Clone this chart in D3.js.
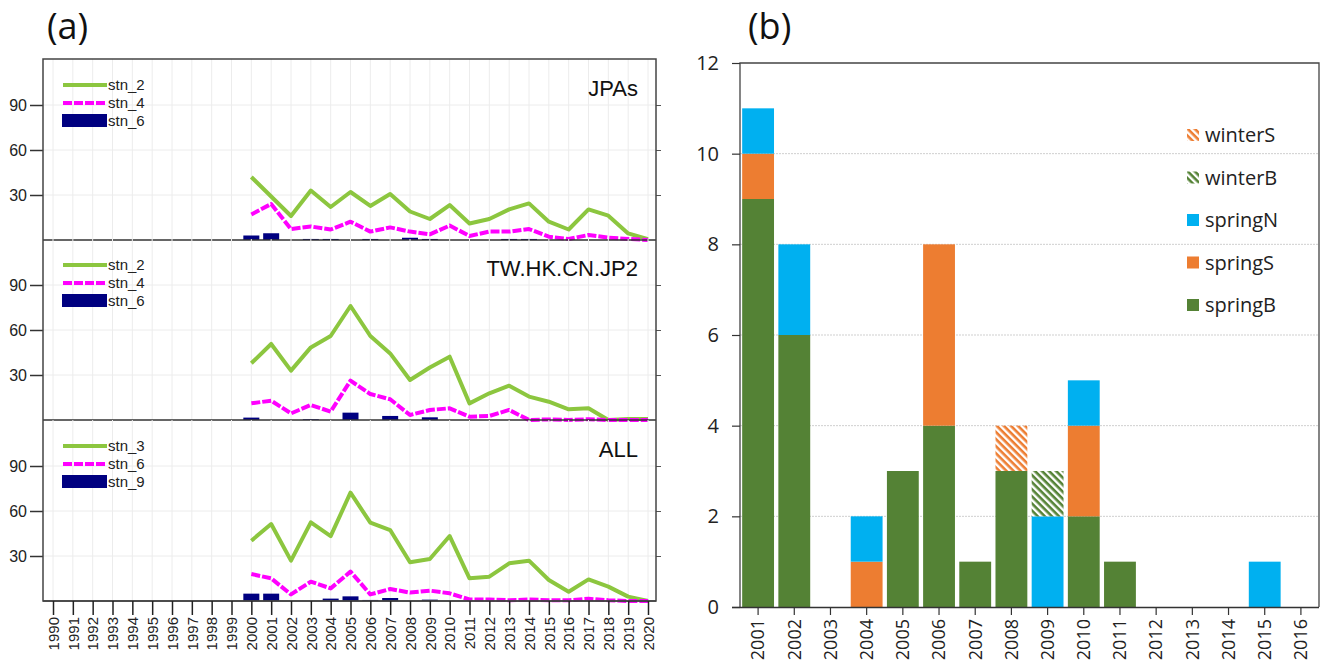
<!DOCTYPE html>
<html>
<head>
<meta charset="utf-8">
<script src="https://cdn.jsdelivr.net/npm/d3@7"></script>
<style>
  html, body { margin: 0; padding: 0; background: #fff; }
  svg { display: block; }
</style>
</head>
<body>
<svg id="chart" width="1325" height="667"></svg>
<script>
// ---------------- DATA: panel (a) ----------------
const axisYearsA = [1990,1991,1992,1993,1994,1995,1996,1997,1998,1999,2000,2001,2002,2003,2004,2005,2006,2007,2008,2009,2010,2011,2012,2013,2014,2015,2016,2017,2018,2019,2020];
const dataYearsA = [2000,2001,2002,2003,2004,2005,2006,2007,2008,2009,2010,2011,2012,2013,2014,2015,2016,2017,2018,2019,2020];
const yTicksA = [30, 60, 90];

const panelNames = ["JPAs", "TW.HK.CN.JP2", "ALL"];
const legendNames = [["stn_2","stn_4","stn_6"], ["stn_2","stn_4","stn_6"], ["stn_3","stn_6","stn_9"]];

const jpasGreen = [42, 29, 16, 33, 22, 32, 22.7, 30.7, 19, 14, 23.3, 11, 14, 20.4, 24.4, 12.2, 7, 20.4, 16.2, 4.4, 0.5];
const jpasPink  = [17, 24, 7.3, 9, 7, 12.2, 5.6, 8.4, 5.6, 3.8, 9.6, 2.7, 5.6, 5.6, 7.3, 2.2, 0.7, 3.3, 1.6, 0.7, 0];
const jpasNavy  = [3, 4.5, 0, 0.7, 0.7, 0, 0.7, 0, 1.5, 0.7, 0, 0, 0, 0.7, 0.7, 0, 0, 0, 0, 0, 0];

const twGreen = [37.8, 50.7, 32.9, 48.4, 56, 76, 56, 44.4, 26.7, 35, 42.2, 11.1, 17.8, 22.9, 15.6, 12.2, 7.1, 7.8, 0, 0.7, 0.7];
const twPink  = [11.1, 12.9, 4.4, 10, 5.6, 26.2, 17.3, 13.8, 3.3, 6.7, 7.8, 2.2, 2.7, 6.7, 0, 0.4, 0, 0.5, 0, 0, 0];
const twNavy  = [1.6, 0, 0, 0.5, 0, 4.9, 0, 2.7, 0, 1.8, 0, 0, 0, 0, 0, 0, 0, 0, 0, 0, 0];

const allGreen = [40.2, 51.3, 26.9, 52.4, 43.3, 72.2, 52.2, 47.3, 25.8, 28, 43.3, 15.1, 16.2, 25.1, 26.9, 14, 6.2, 14.4, 9.6, 2.9, 0];
const allPink  = [18, 15.1, 4.4, 12.9, 8.4, 19.6, 4.4, 8, 5.6, 6.9, 5.1, 1, 1, 0.5, 1, 0.5, 0.5, 1.5, 0.5, 0, 0];
const allNavy  = [4.9, 4.9, 0, 0, 1.6, 3.1, 0.7, 2, 0, 0.9, 0, 0, 0, 0, 0, 0, 0, 0, 0, 0, 0];

// ---------------- DATA: panel (b) ----------------
const yearsB = ["2001","2002","2003","2004","2005","2006","2007","2008","2009","2010","2011","2012","2013","2014","2015","2016"];
const springB = [9, 6, 0, 0, 3, 4, 1, 3, 0, 2, 1, 0, 0, 0, 0, 0];
const springS = [1, 0, 0, 1, 0, 4, 0, 0, 0, 2, 0, 0, 0, 0, 0, 0];
const springN = [1, 2, 0, 1, 0, 0, 0, 0, 2, 1, 0, 0, 0, 0, 1, 0];
const winterB = [0, 0, 0, 0, 0, 0, 0, 0, 1, 0, 0, 0, 0, 0, 0, 0];
const winterS = [0, 0, 0, 0, 0, 0, 0, 1, 0, 0, 0, 0, 0, 0, 0, 0];
const seriesB = ["springB", "springS", "springN", "winterB", "winterS"];
const legendB = ["winterS", "winterB", "springN", "springS", "springB"];
const yTicksB = [0, 2, 4, 6, 8, 10, 12];

// ---------------- STYLE ----------------
const GREEN = "#8cc63f", PINK = "#ff00ff", NAVY = "#000080";
const colB = { springB: "#548235", springS: "#ed7d31", springN: "#00b0f0", winterB: "#548235", winterS: "#ed7d31" };
const fontA = "'Liberation Sans', Arial, sans-serif";
const fontB = "'Open Sans', sans-serif";

const svg = d3.select("#chart");
svg.append("rect").attr("width", 1325).attr("height", 667).attr("fill", "#fff");

// ---------------- PANEL (a) ----------------
const aLeft = 43, aRight = 656;
const panelBottoms = [240, 420, 601];
const panelH = 181;
const xA = d3.scaleLinear().domain([1990, 2020]).range([53, 648]);

const panels = [
  { green: jpasGreen, pink: jpasPink, navy: jpasNavy },
  { green: twGreen, pink: twPink, navy: twNavy },
  { green: allGreen, pink: allPink, navy: allNavy }
];

svg.append("text").attr("x", 47).attr("y", 39).attr("font-family", fontB)
  .attr("font-size", 36).attr("fill", "#111").text("(a)");

panels.forEach((p, i) => {
  const bottom = panelBottoms[i];
  const top = bottom - panelH;
  const y = d3.scaleLinear().domain([0, 120]).range([bottom, bottom - 180]);
  const g = svg.append("g");

  g.selectAll("line.vg").data(axisYearsA).join("line")
    .attr("x1", d => xA(d)).attr("x2", d => xA(d))
    .attr("y1", top).attr("y2", bottom)
    .attr("stroke", "#ececec").attr("stroke-width", 1);
  g.selectAll("line.hg").data(yTicksA).join("line")
    .attr("x1", aLeft).attr("x2", aRight)
    .attr("y1", d => y(d)).attr("y2", d => y(d))
    .attr("stroke", "#ececec").attr("stroke-width", 1);

  const axL = d3.axisLeft(y).tickValues(yTicksA).tickSize(13).tickPadding(3);
  const gl = g.append("g").attr("transform", `translate(${aLeft},0)`).call(axL);
  gl.attr("font-size", null).attr("font-family", null);
  gl.select(".domain").remove();
  gl.selectAll(".tick line").attr("stroke", "#333").attr("stroke-width", 1.5);
  gl.selectAll(".tick text").style("font-family", fontA).style("font-size", "16px").attr("fill", "#222");

  const axR = d3.axisRight(y).tickValues(yTicksA).tickSize(5).tickFormat("");
  const gr = g.append("g").attr("transform", `translate(${aRight},0)`).call(axR);
  gr.select(".domain").remove();
  gr.selectAll(".tick line").attr("stroke", "#555").attr("stroke-width", 1);

  const bw = 16;
  g.selectAll("rect.bar").data(dataYearsA.map((yr, k) => ({ yr, v: p.navy[k] })).filter(d => d.v > 0)).join("rect")
    .attr("x", d => xA(d.yr) - bw / 2).attr("width", bw)
    .attr("y", d => y(d.v)).attr("height", d => y(0) - y(d.v))
    .attr("fill", NAVY);

  const line = d3.line().x((d, k) => xA(dataYearsA[k])).y(d => y(d));
  g.append("path").datum(p.green).attr("d", line)
    .attr("fill", "none").attr("stroke", GREEN).attr("stroke-width", 4).attr("stroke-linejoin", "round");
  g.append("path").datum(p.pink).attr("d", line)
    .attr("fill", "none").attr("stroke", PINK).attr("stroke-width", 4).attr("stroke-dasharray", "9,2").attr("stroke-linejoin", "round");

  const ln = legendNames[i];
  g.append("line").attr("x1", 63).attr("x2", 107).attr("y1", top + 26).attr("y2", top + 26)
    .attr("stroke", GREEN).attr("stroke-width", 4);
  g.append("line").attr("x1", 63).attr("x2", 107).attr("y1", top + 44).attr("y2", top + 44)
    .attr("stroke", PINK).attr("stroke-width", 4).attr("stroke-dasharray", "9,2");
  g.append("rect").attr("x", 62).attr("y", top + 55).attr("width", 45).attr("height", 13).attr("fill", NAVY);
  [26, 44, 62].forEach((dy, k) => {
    g.append("text").attr("x", 108).attr("y", top + dy + 5).style("font-family", fontA)
      .style("font-size", "15px").attr("fill", "#222").text(ln[k]);
  });

  g.append("text").attr("x", 638).attr("y", top + 37).attr("text-anchor", "end")
    .style("font-family", fontA).style("font-size", "22px").attr("fill", "#111").text(panelNames[i]);

  g.append("line").attr("x1", aLeft).attr("x2", aRight).attr("y1", bottom).attr("y2", bottom)
    .attr("stroke", "#333").attr("stroke-width", 1.5);
});

svg.append("rect").attr("x", aLeft).attr("y", panelBottoms[0] - panelH).attr("width", aRight - aLeft)
  .attr("height", panelBottoms[2] - (panelBottoms[0] - panelH))
  .attr("fill", "none").attr("stroke", "#444").attr("stroke-width", 1.5);

const axBA = d3.axisBottom(xA).tickValues(axisYearsA).tickSize(14).tickPadding(3).tickFormat(d3.format("d"));
const gba = svg.append("g").attr("transform", `translate(0,${panelBottoms[2]})`).call(axBA);
gba.attr("font-size", null).attr("font-family", null);
gba.select(".domain").remove();
gba.selectAll(".tick line").attr("stroke", "#222").attr("stroke-width", 1.5);
gba.selectAll(".tick text")
  .style("font-family", fontA).style("font-size", "15px").attr("fill", "#222")
  .attr("text-anchor", "end").attr("transform", "rotate(-90)")
  .attr("x", -16).attr("y", 0).attr("dy", "0.35em");

// ---------------- PANEL (b) ----------------
const bLeft = 740, bRight = 1319, bTop = 63, bBottom = 607;
const xB = d3.scaleBand().domain(yearsB).range([bLeft, bRight]).paddingInner(0.12).paddingOuter(0.06);
const yB = d3.scaleLinear().domain([0, 12]).range([bBottom, bTop]);

svg.append("text").attr("x", 748).attr("y", 39).attr("font-family", fontB)
  .attr("font-size", 36).attr("fill", "#111").text("(b)");

const defs = svg.append("defs");
function hatch(id, color) {
  const p = defs.append("pattern").attr("id", id).attr("patternUnits", "userSpaceOnUse")
    .attr("width", 5).attr("height", 5).attr("patternTransform", "rotate(45)");
  p.append("rect").attr("width", 5).attr("height", 5).attr("fill", "#fff");
  p.append("rect").attr("width", 5).attr("height", 2.6).attr("fill", color);
}
hatch("hatchS", colB.winterS);
hatch("hatchB", colB.winterB);
const fillB = { springB: colB.springB, springS: colB.springS, springN: colB.springN, winterB: "url(#hatchB)", winterS: "url(#hatchS)" };

svg.append("g").selectAll("line").data(yTicksB.filter(d => d > 0 && d < 12)).join("line")
  .attr("x1", bLeft).attr("x2", bRight).attr("y1", d => yB(d)).attr("y2", d => yB(d))
  .attr("stroke", "#cfcfcf").attr("stroke-width", 1).attr("stroke-dasharray", "2,1");

const rowsB = yearsB.map((yr, k) => ({ year: yr, springB: springB[k], springS: springS[k], springN: springN[k], winterB: winterB[k], winterS: winterS[k] }));
const stackB = d3.stack().keys(seriesB)(rowsB);
const gBars = svg.append("g");
stackB.forEach(layer => {
  gBars.selectAll(null).data(layer.filter(d => d[1] > d[0])).join("rect")
    .attr("x", d => xB(d.data.year)).attr("width", xB.bandwidth())
    .attr("y", d => yB(d[1])).attr("height", d => yB(d[0]) - yB(d[1]))
    .attr("fill", fillB[layer.key]);
});

svg.append("path")
  .attr("d", `M${bLeft},${bBottom} L${bLeft},${bTop} L${bRight},${bTop} L${bRight},${bBottom}`)
  .attr("fill", "none").attr("stroke", "#444").attr("stroke-width", 1.3);

const axLB = d3.axisLeft(yB).tickValues(yTicksB).tickSize(8).tickPadding(13);
const glb = svg.append("g").attr("transform", `translate(${bLeft},0)`).call(axLB);
glb.attr("font-size", null).attr("font-family", null);
glb.select(".domain").remove();
glb.selectAll(".tick line").attr("stroke", "#333").attr("stroke-width", 1.2);
glb.selectAll(".tick text").style("font-family", fontB).style("font-size", "20px").attr("fill", "#222");

const axBB = d3.axisBottom(xB).tickSize(8).tickPadding(3);
const gbb = svg.append("g").attr("transform", `translate(0,${bBottom})`).call(axBB);
gbb.attr("font-size", null).attr("font-family", null);
gbb.select(".domain").attr("stroke", "#333").attr("stroke-width", 1.3)
  .attr("d", `M${bLeft - 8},0.5H${bRight}`);
gbb.selectAll(".tick line").attr("stroke", "#333").attr("stroke-width", 1.2);
gbb.selectAll(".tick text")
  .style("font-family", fontB).style("font-size", "18px").attr("fill", "#222")
  .attr("text-anchor", "end").attr("transform", "rotate(-90)")
  .attr("x", -12).attr("y", 0).attr("dy", "0.35em");

const legY0 = 135, legStep = 42.5;
legendB.forEach((k, i) => {
  const cy = legY0 + i * legStep;
  svg.append("rect").attr("x", 1187).attr("y", cy - 6).attr("width", 12).attr("height", 12).attr("fill", fillB[k]);
  svg.append("text").attr("x", 1205).attr("y", cy).attr("dy", "0.35em")
    .style("font-family", fontB).style("font-size", "20px").attr("fill", "#222").text(k);
});
</script>
</body>
</html>
